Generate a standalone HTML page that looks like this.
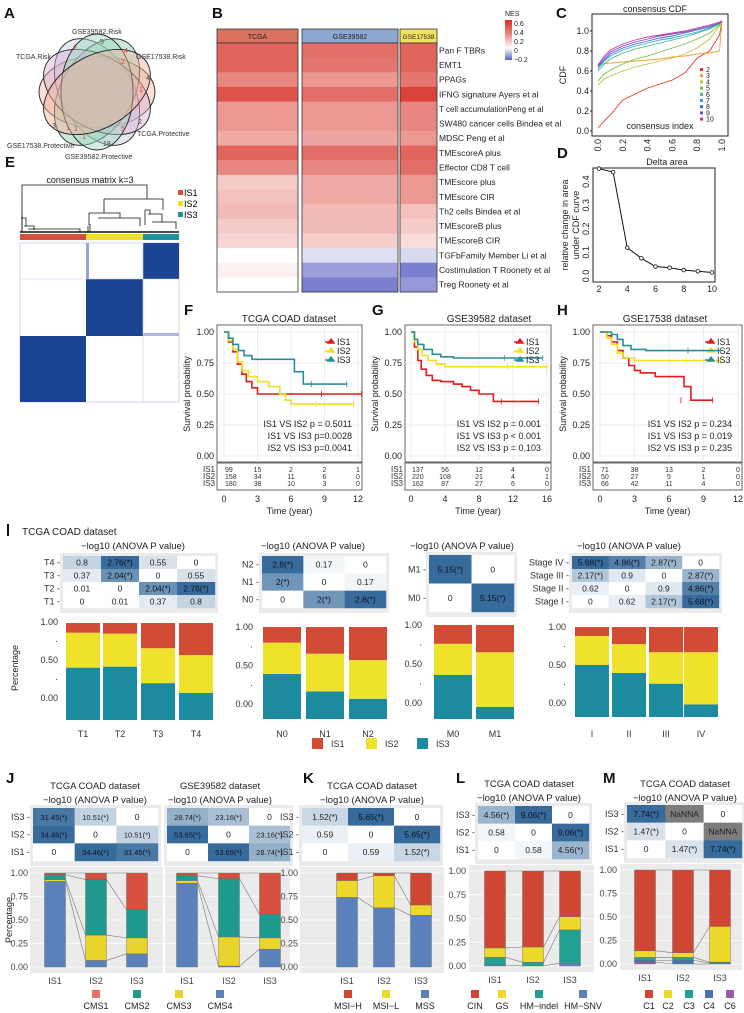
<!DOCTYPE html>
<html><head><meta charset="utf-8"><style>
html,body{margin:0;padding:0;background:#fff;}
svg{display:block;font-family:"Liberation Sans",Arial,sans-serif;}
</style></head><body>
<svg id="fig" width="744" height="1013" viewBox="0 0 744 1013" xmlns="http://www.w3.org/2000/svg">
<rect x="0" y="0" width="744" height="1013" fill="#fff"/>
<!-- panel letters -->
<g font-weight="bold" font-size="15" fill="#111">
<text x="4" y="18">A</text>
<text x="212" y="18">B</text>
<text x="556" y="18">C</text>
<text x="557" y="158">D</text>
<text x="5" y="167">E</text>
<text x="184" y="315">F</text>
<text x="372" y="315">G</text>
<text x="557" y="315">H</text>
<text x="6" y="783">J</text>
<text x="303" y="783">K</text>
<text x="456" y="783">L</text>
<text x="603" y="783">M</text>
</g>
<rect x="7" y="524" width="2" height="12" fill="#111"/>
<text x="22" y="535" font-size="10" fill="#222">TCGA COAD dataset</text>

<!-- Venn A -->
<g stroke="#222" stroke-width="0.9">
<ellipse cx="97" cy="92" rx="58" ry="36" transform="rotate(0 97 92)" fill="#f2b7a0" fill-opacity="0.45"/>
<ellipse cx="97" cy="92" rx="58" ry="36" transform="rotate(60 97 92)" fill="#c4cbe4" fill-opacity="0.45"/>
<ellipse cx="97" cy="92" rx="58" ry="36" transform="rotate(120 97 92)" fill="#8ccfae" fill-opacity="0.45"/>
<ellipse cx="97" cy="92" rx="58" ry="36" transform="rotate(30 97 92)" fill="#d8b0d4" fill-opacity="0.45"/>
<ellipse cx="97" cy="92" rx="58" ry="36" transform="rotate(90 97 92)" fill="#9fd6c2" fill-opacity="0.45"/>
<ellipse cx="97" cy="92" rx="58" ry="36" transform="rotate(150 97 92)" fill="#f0b09a" fill-opacity="0.45"/>
</g>
<g font-size="7" fill="#333">
<text x="72" y="34">GSE39582.Risk</text>
<text x="16" y="59">TCGA.Risk</text>
<text x="136" y="59">GSE17538.Risk</text>
<text x="137" y="136">TCGA.Protective</text>
<text x="7" y="148">GSE17538.Protective</text>
<text x="65" y="159">GSE39582.Protective</text>
</g>
<g font-size="7">
<text x="100" y="44" fill="#444">5</text>
<text x="73" y="50" fill="#e33">2</text>
<text x="124" y="53" fill="#e33">4</text>
<text x="121" y="64" fill="#e33">2</text>
<text x="146" y="80" fill="#444">4</text>
<text x="139" y="92" fill="#e33">1</text>
<text x="138" y="124" fill="#444">2</text>
<text x="121" y="131" fill="#e33">5</text>
<text x="103" y="146" fill="#444">18</text>
<text x="52" y="128" fill="#444">3</text>
<text x="66" y="130" fill="#e33">1</text>
<text x="74" y="131" fill="#e33">1</text>
<text x="82" y="139" fill="#e33">1</text>
</g>

<!-- E consensus matrix -->
<text x="90" y="183" font-size="9" text-anchor="middle" fill="#111">consensus matrix k=3</text>
<g stroke="#111" stroke-width="0.8" fill="none">
<path d="M22 232 V185 H147 V199"/>
<path d="M104 199 H163 V210"/>
<path d="M104 199 V213 M89 213 H120 V218 M89 213 V225 M98 218 H140 V226"/>
<path d="M145 210 H150 V214 M145 210 V225 M148 214 H162 V222 M152 222 H176 V229"/>
<path d="M22 215 V232 M21 218 H26 V226 M24 226 H34 V230 M28 229 H80 V232 M88 226 V232 M90 224 V232"/>
<path d="M20 232 H179" stroke-width="1.5"/>
</g>
<rect x="20" y="234" width="66" height="6" fill="#d4503a"/>
<rect x="86" y="234" width="57" height="6" fill="#efe11f"/>
<rect x="143" y="234" width="36" height="6" fill="#1f92a0"/>
<g>
<rect x="20" y="243" width="159" height="159" fill="#fff" stroke="#c8cbea" stroke-width="0.8"/>
<rect x="86" y="243" width="3" height="93" fill="#9aa3d6"/>
<rect x="86" y="333" width="93" height="3" fill="#b0b7e0"/>
<rect x="143" y="243" width="36" height="36" fill="#1b4594"/>
<rect x="86" y="279" width="57" height="57" fill="#1b4594"/>
<rect x="20" y="336" width="66" height="66" fill="#1b4594"/>
<line x1="20" y1="279" x2="179" y2="279" stroke="#c8cbea" stroke-width="0.6"/>
<line x1="143" y1="243" x2="143" y2="402" stroke="#c8cbea" stroke-width="0.6"/>
</g>
<g font-size="9">
<rect x="178" y="190" width="5" height="5" fill="#d4503a"/>
<text x="184" y="196">IS1</text>
<rect x="178" y="201" width="5" height="5" fill="#efe11f"/>
<text x="184" y="207">IS2</text>
<rect x="178" y="212" width="5" height="5" fill="#1f92a0"/>
<text x="184" y="218">IS3</text>
</g>
</svg>
<script>
const NS='http://www.w3.org/2000/svg';
const S=document.getElementById('fig');
function mk(tag,a,p){const e=document.createElementNS(NS,tag);for(const k in a)e.setAttribute(k,a[k]);(p||S).appendChild(e);return e;}
function tx(x,y,s,fs,anc,fill){const e=mk('text',{x:x,y:y,'font-size':fs,'text-anchor':anc||'start',fill:fill||'#222'});e.textContent=s;return e;}

/* ===== B heatmap data ===== */
const bRows=['Pan F TBRs','EMT1','PPAGs','IFNG signature  Ayers et al','T cell accumulationPeng et al','SW480 cancer cells Bindea et al','MDSC Peng et al','TMEscoreA plus','Effector CD8 T cell','TMEscore plus','TMEscore CIR','Th2 cells Bindea et al','TMEscoreB plus','TMEscoreB CIR','TGFbFamily Member Li et al','Costimulation T Roonety et al','Treg Roonety et al'];
const bTCGA=[0.45,0.45,0.35,0.5,0.3,0.3,0.25,0.45,0.35,0.15,0.18,0.2,0.15,0.12,0.0,0.04,0.0];
const bGSE39582=[0.42,0.4,0.3,0.42,0.3,0.3,0.26,0.42,0.35,0.25,0.25,0.2,0.2,0.14,-0.05,-0.15,-0.2];
const bGSE17538=[0.45,0.45,0.4,0.55,0.35,0.35,0.3,0.45,0.42,0.3,0.3,0.18,0.15,0.1,-0.06,-0.2,-0.16];
const bGroups=['TCGA','GSE39582','GSE17538'];
function nesColor(v){
  if(v>=0){const t=Math.min(v/0.6,1);return `rgb(${Math.round(255-40*t)},${Math.round(255-207*t)},${Math.round(255-216*t)})`;}
  const t=Math.min(-v/0.25,1);return `rgb(${Math.round(255-165*t)},${Math.round(255-160*t)},${Math.round(255-60*t)})`;
}
(function(){
  const cols=[[217,298,'#d9735f',bTCGA],[302,398,'#8ea8d2',bGSE39582],[400,437,'#f2e061',bGSE17538]];
  const top=43,bot=292,rh=(bot-top)/bRows.length;
  cols.forEach((c,ci)=>{
    const h=mk('rect',{x:c[0],y:29,width:c[1]-c[0],height:14,fill:c[2],stroke:'#333','stroke-width':0.8});
    
    
    const ht=tx((c[0]+c[1])/2,39,bGroups[ci],ci==2?6.5:7,'middle','#222');
    
    
    c[3].forEach((v,ri)=>{
      const r=mk('rect',{x:c[0],y:top+ri*rh,width:c[1]-c[0],height:rh+0.3,fill:nesColor(v)});
      
      
    });
    const f=mk('rect',{x:c[0],y:top,width:c[1]-c[0],height:bot-top,fill:'none',stroke:'#333','stroke-width':0.8});
    
    
  });
  bRows.forEach((n,ri)=>{
    const t=tx(439,top+ri*rh+rh/2+3,n,n.indexOf('Peng et al')>0&&ri==4?8:8.5,'start','#222');
    
    
  });
})();
const nesTicks=[0.6,0.4,0.2,0,-0.2];
(function(){
  const t0=tx(505,16,'NES',7,'start','#222');
  
  
  const g=mk('defs',{});
  const lg=mk('linearGradient',{id:'nesg',x1:0,y1:0,x2:0,y2:1},g);
  [[0,0.65],[0.35,0.35],[0.7,0],[1,-0.25]].forEach(s=>mk('stop',{offset:s[0],'stop-color':nesColor(s[1])},lg));
  const r=mk('rect',{x:505,y:20,width:7,height:40,fill:'url(#nesg)'});
  
  
  nesTicks.forEach(v=>{
    const y=60-(v+0.25)/0.9*40+2;
    const t=tx(514,y+2,v<0?'\u22120.2':String(v),7,'start','#222');
    
    
  });
})();

/* ===== C consensus CDF ===== */
const cdfX=[0,0.05,0.1,0.2,0.3,0.4,0.5,0.6,0.7,0.8,0.9,0.98,1.0];
const cdfK2=[0.03,0.1,0.16,0.31,0.37,0.43,0.47,0.51,0.58,0.73,0.8,0.96,1.1];
const cdfK3=[0.67,0.67,0.68,0.69,0.7,0.71,0.72,0.74,0.75,0.77,0.78,0.8,1.1];
const cdfK4=[0.46,0.52,0.55,0.6,0.64,0.67,0.7,0.73,0.77,0.83,0.92,1.05,1.1];
const cdfK5=[0.5,0.57,0.61,0.67,0.72,0.75,0.79,0.83,0.87,0.92,0.98,1.06,1.1];
const cdfK6=[0.6,0.67,0.72,0.78,0.82,0.85,0.88,0.91,0.94,0.98,1.02,1.07,1.1];
const cdfK7=[0.62,0.7,0.75,0.81,0.85,0.88,0.91,0.93,0.96,0.99,1.03,1.08,1.1];
const cdfK8=[0.64,0.71,0.77,0.83,0.87,0.9,0.93,0.95,0.98,1.01,1.04,1.08,1.1];
const cdfK9=[0.65,0.73,0.79,0.85,0.89,0.92,0.95,0.97,0.99,1.02,1.05,1.08,1.1];
const cdfK10=[0.66,0.75,0.81,0.87,0.91,0.94,0.96,0.98,1.0,1.03,1.06,1.09,1.1];
const cdfSeries=[cdfK2,cdfK3,cdfK4,cdfK5,cdfK6,cdfK7,cdfK8,cdfK9,cdfK10];
const cdfNames=['2','3','4','5','6','7','8','9','10'];
const cdfColors=['#e8352e','#f0a030','#b6c93a','#77bf3e','#3fb58a','#34a4d6','#3a6fc4','#7a4cc0','#d3359a'];
const cdfTicks=[0,0.2,0.4,0.6,0.8,1.0];
(function(){
  const xs=v=>598+v*124, ys=v=>131-v*100;
  const fr=mk('rect',{x:592,y:14,width:136,height:122,fill:'#fff',stroke:'#222','stroke-width':1});
  
  
  const tt=tx(655,12,'consensus CDF',9,'middle');
  
  
  cdfSeries.forEach((s,i)=>{
    const d=s.map((v,j)=>(j?'L':'M')+xs(cdfX[j]).toFixed(1)+' '+ys(v).toFixed(1)).join(' ');
    const p=mk('path',{d:d,fill:'none',stroke:cdfColors[i],'stroke-width':0.9});
    
    
    const r=mk('rect',{x:700,y:68+i*6.2,width:3,height:3,fill:cdfColors[i]});
    
    
    const t=tx(706,72+i*6.2,cdfNames[i],7,'start');
    
    
  });
  cdfTicks.forEach(v=>{
    const t=tx(589,ys(v)+3,v.toFixed(1),9,'end');
    
    
    const l=mk('line',{x1:590,x2:592,y1:ys(v),y2:ys(v),stroke:'#222'});
    
    
    const tx2=tx(0,0,v.toFixed(1),9,'end');
    tx2.setAttribute('transform',`translate(${xs(v)+3},${139}) rotate(-90)`);
    
    
  });
  const yl=tx(0,0,'CDF',9,'middle');
  yl.setAttribute('transform','translate(566,75) rotate(-90)');
  
  
  const xl=tx(660,129,'consensus index',9,'middle');
  
  
})();

/* ===== D delta area ===== */
const dK=[2,3,4,5,6,7,8,9,10];
const dArea=[0.455,0.44,0.12,0.075,0.04,0.035,0.025,0.02,0.015];
const dTicks=[0,0.1,0.2,0.3,0.4];
const dXTicks=[2,4,6,8,10];
(function(){
  const xs=k=>599+(k-2)*(113/8), ys=v=>276-v*236;
  const fr=mk('rect',{x:593,y:168,width:122,height:114,fill:'#fff',stroke:'#222','stroke-width':1});
  
  
  const tt=tx(667,165,'Delta area',9,'middle');
  
  
  const p=mk('path',{d:dK.map((k,i)=>(i?'L':'M')+xs(k)+' '+ys(dArea[i])).join(' '),fill:'none',stroke:'#111','stroke-width':1});
  
  
  dK.forEach((k,i)=>{
    const c=mk('circle',{cx:xs(k),cy:ys(dArea[i]),r:1.8,fill:'#fff',stroke:'#111','stroke-width':0.8});
    
    
  });
  dTicks.forEach(v=>{
    const t=tx(0,0,v.toFixed(1),9,'middle');
    t.setAttribute('transform',`translate(589,${ys(v)}) rotate(-90)`);
    
    
  });
  dXTicks.forEach(k=>{
    const t=tx(xs(k),292,String(k),9,'middle');
    
    
  });
  const y1=tx(0,0,'relative change in area',9,'middle');
  y1.setAttribute('transform','translate(568,225) rotate(-90)');
  
  
  const y2=tx(0,0,'under CDF curve',9,'middle');
  y2.setAttribute('transform','translate(579,225) rotate(-90)');
  
  
})();

/* ===== Survival F/G/H ===== */
const fTimeTicks=[0,3,6,9,12];
const fIS1=[[0,1],[0.4,0.92],[0.8,0.84],[1.2,0.74],[1.6,0.66],[2,0.6],[2.5,0.55],[3,0.5],[12.3,0.5]];
const fIS2=[[0,1],[0.4,0.93],[0.8,0.86],[1.2,0.76],[1.6,0.69],[2.2,0.64],[3,0.6],[4,0.56],[5,0.5],[5.5,0.45],[6,0.42],[11.6,0.42]];
const fIS3=[[0,1],[0.4,0.95],[0.8,0.9],[1.3,0.85],[1.8,0.81],[2.5,0.78],[6.2,0.78],[6.3,0.68],[7,0.68],[7.1,0.58],[11,0.58]];
const fRisk=[[99,15,2,2,1],[158,34,11,6,0],[180,38,10,3,0]];
const fPvals=['IS1 VS IS2 p = 0.5011','IS1 VS IS3 p=0.0028','IS2 VS IS3 p=0.0041'];
const gTimeTicks=[0,4,8,12,16];
const gIS1=[[0,1],[0.4,0.88],[0.8,0.77],[1.2,0.7],[1.8,0.65],[2.5,0.61],[3.5,0.6],[5,0.58],[6,0.56],[7,0.53],[8,0.5],[9.6,0.5],[9.7,0.44],[15,0.44]];
const gIS2=[[0,1],[0.4,0.92],[0.8,0.86],[1.3,0.81],[2,0.77],[3,0.74],[4,0.72],[16,0.72]];
const gIS3=[[0,1],[0.4,0.94],[0.8,0.9],[1.5,0.86],[2.5,0.82],[3.5,0.8],[5,0.79],[15.5,0.79]];
const gRisk=[[137,56,12,4,0],[220,108,21,4,1],[162,87,27,6,0]];
const gPvals=['IS1 VS IS2 p = 0.001','IS1 VS IS3 p < 0.001','IS2 VS IS3 p = 0.103'];
const hTimeTicks=[0,3,6,9,12];
const hIS1=[[0,1],[0.6,0.97],[1,0.92],[1.5,0.85],[2,0.79],[2.5,0.73],[3,0.69],[3.5,0.67],[4.8,0.64],[7.2,0.64],[7.3,0.56],[7.8,0.56],[7.9,0.45],[9.8,0.45]];
const hIS2=[[0,1],[0.6,0.95],[1,0.9],[1.5,0.83],[2,0.79],[3,0.77],[10.5,0.77]];
const hIS3=[[0,1],[1,0.98],[1.5,0.94],[2,0.89],[2.7,0.86],[4,0.85],[10.5,0.85]];
const hRisk=[[71,38,13,2,0],[50,27,5,1,0],[66,42,11,4,0]];
const hPvals=['IS1 VS IS2 p = 0.234','IS1 VS IS3 p = 0.019','IS2 VS IS3 p = 0.235'];
const survColors=['#e41a1c','#f2e01e','#2a8d9c'];
const survYTicks=[0,0.25,0.5,0.75,1];
function survival(x0,x1,t0,tMax,ticks,series,risk,pv,title,tcx,showY){
  const xs=t=>t0+t/tMax*(t1-t0); const t1=x1-4;
  const ys=v=>456-v*124;
  const fr=mk('rect',{x:x0,y:325,width:x1-x0,height:137,fill:'#fff',stroke:'#555','stroke-width':0.9});
  
  
  const tt=tx(tcx,322,title,10,'middle');
  
  
  survYTicks.forEach(v=>{
    const g=mk('line',{x1:x0,x2:x1,y1:ys(v),y2:ys(v),stroke:'#e6e6e6','stroke-width':0.7});
    
    
    const t=tx(x0-3,ys(v)+3,v.toFixed(2),9,'end');
    
    
  });
  ticks.forEach(v=>{
    const g=mk('line',{x1:xs(v),x2:xs(v),y1:325,y2:462,stroke:'#e6e6e6','stroke-width':0.7});
    
    
    const t=tx(xs(v),502,String(v),9,'middle');
    
    
  });
  series.forEach((s,i)=>{
    let d='M'+xs(s[0][0])+' '+ys(s[0][1]);
    for(let j=1;j<s.length;j++){d+=' H'+xs(s[j][0]).toFixed(1)+' V'+ys(s[j][1]).toFixed(1);}
    const p=mk('path',{d:d,fill:'none',stroke:survColors[i],'stroke-width':1.6});
    
    
    const last=s[s.length-1];
    const c=mk('path',{d:`M${xs(last[0])} ${ys(last[1])-3} v6 M${xs(last[0]*0.7+s[1][0]*0.3)} ${ys(last[1])-3} v6`,stroke:survColors[i],'stroke-width':0.8});
    
    
    const lk=mk('path',{d:`M${x1-34} ${343+i*9} l3 -4 l3 4 z M${x1-37} ${342+i*9} h9`,fill:survColors[i],stroke:survColors[i],'stroke-width':1.4});
    
    
    const lt=tx(x1-25,345+i*9,'IS'+(i+1),9,'start');
    
    
    const pt=tx(x1-10,427+i*12,pv[i],9,'end');
    
    
  });
  const rf=mk('rect',{x:x0,y:463,width:x1-x0,height:27,fill:'#fff',stroke:'#555','stroke-width':0.9});
  
  
  risk.forEach((row,i)=>{
    const rl=tx(x0-2,472+i*7,'IS'+(i+1),8,'end','#333');
    
    
    row.forEach((n,j)=>{
      const t=tx(j==0?xs(ticks[j])+1:xs(ticks[j]),472+i*7,String(n),7,j==0?'start':'middle','#333');
      
      
    });
  });
  const xl=tx((x0+x1)/2,514,'Time (year)',9,'middle');
  
  
  const yl=tx(0,0,'Survival probability',9,'middle');
  yl.setAttribute('transform',`translate(${x0-27},394) rotate(-90)`);
  
  
}
survival(217,362,224,12,fTimeTicks,[fIS1,fIS2,fIS3],fRisk,fPvals,'TCGA COAD dataset',289,true);
survival(405,551,411,16,gTimeTicks,[gIS1,gIS2,gIS3],gRisk,gPvals,'GSE39582 dataset',489,true);
survival(593,742,600,12,hTimeTicks,[hIS1,hIS2,hIS3],hRisk,hPvals,'GSE17538 dataset',665,true);

/* ===== heatmap helper (ANOVA) ===== */
function anovaHeat(x0,x1,y0,y1,rows,mat,labelX,title,tcx,tcy,key){
  const nc=mat[0].length,nr=mat.length,cw=(x1-x0)/nc,rh=(y1-y0)/nr;
  let mx=0;mat.forEach(r=>r.forEach(v=>{if(!isNaN(v))mx=Math.max(mx,v);}));
  const bg=mk('rect',{x:x0-3,y:y0-3,width:x1-x0+6,height:y1-y0+8,fill:'#ebebeb'});
  
  
  mat.forEach((r,i)=>{
    r.forEach((v,j)=>{
      let fill;
      if(isNaN(v))fill='#7d7d7d';else{const t=v/mx;fill=`rgb(${Math.round(255-201*t)},${Math.round(255-148*t)},${Math.round(255-100*t)})`;}
      const c=mk('rect',{x:x0+j*cw,y:y0+i*rh,width:cw+0.2,height:rh+0.2,fill:fill});
      
      
      const s=isNaN(v)?'NaNNA':(String(v)+(v>1.3?'(*)':''));
      const t=tx(x0+j*cw+cw/2,y0+i*rh+rh/2+3,s,String(s).length>7?7.5:8.5,'middle',(!isNaN(v)&&v/mx>0.55)?'#112':'#222');
      
      
    });
    if(rows){
      const rl=tx(labelX,y0+i*rh+rh/2+3,rows[i]+' -',9,'end','#333');
      
      
    }
  });
  title.forEach((s,k)=>{
    const t=tx(tcx,tcy+k*14,s,9.5,'middle');
    
    
  });
}

/* ===== I panel data ===== */
const tRows=['T4','T3','T2','T1'];
const tAnova=[[0.8,2.76,0.55,0],[0.37,2.04,0,0.55],[0.01,0,2.04,2.76],[0,0.01,0.37,0.8]];
const nRows=['N2','N1','N0'];
const nAnova=[[2.8,0.17,0],[2,0,0.17],[0,2,2.8]];
const mRows=['M1','M0'];
const mAnova=[[5.15,0],[0,5.15]];
const sRows=['Stage IV','Stage III','Stage II','Stage I'];
const sAnova=[[5.68,4.86,2.87,0],[2.17,0.9,0,2.87],[0.62,0,0.9,4.86],[0,0.62,2.17,5.68]];
const tCats=['T1','T2','T3','T4'];
const tIS1=[0.10,0.11,0.26,0.33],tIS2=[0.36,0.34,0.36,0.39],tIS3=[0.54,0.55,0.38,0.28];
const nCats=['N0','N1','N2'];
const nIS1=[0.17,0.29,0.36],nIS2=[0.34,0.41,0.42],nIS3=[0.49,0.30,0.22];
const mCats=['M0','M1'];
const mIS1=[0.20,0.29],mIS2=[0.33,0.58],mIS3=[0.47,0.13];
const sCats=['I','II','III','IV'];
const sIS1=[0.10,0.19,0.28,0.28],sIS2=[0.32,0.32,0.35,0.58],sIS3=[0.58,0.49,0.37,0.14];
const isColors=['#d24b35','#efe22a','#1c8a9f'];
const iYTicks=['1.00','-','0.50','-','0.00'];

anovaHeat(63,215,556,608,tRows,tAnova,60,['\u2212log10 (ANOVA P value)'],133,549,'t');
anovaHeat(262,386,556,608,nRows,nAnova,259,['\u2212log10 (ANOVA P value)'],313,549,'n');
anovaHeat(429,514,555,612,mRows,mAnova,426,['\u2212log10 (ANOVA P value)'],462,549,'m');
anovaHeat(572,719,556,608,sRows,sAnova,569,['\u2212log10 (ANOVA P value)'],629,549,'stage');

function iBars(lefts,w,top,bot,cats,series,axisX,tickYs,key){
  const H=bot-top;
  cats.forEach((c,i)=>{
    let acc=0;
    [series[2],series[1],series[0]].forEach((s,k)=>{
      const v=s[i];const y=bot-(acc+v)*H;
      const r=mk('rect',{x:lefts[i],y:y,width:w,height:v*H,fill:isColors[2-k]});
      
      
      acc+=v;
    });
    const t=tx(lefts[i]+w/2,737,c,9,'middle','#333');
    
    
  });
  iYTicks.forEach((s,k)=>{
    const t=tx(axisX,tickYs[0]+k*(tickYs[1]-tickYs[0])/4+3,s==='-'?'\u00b7':s,9,'end','#333');
    
    
  });
}
iBars([66,103,141,179],34,623,720,tCats,[tIS1,tIS2,tIS3],58,[622,698],'t');
iBars([263,306,349],38,627,719,nCats,[nIS1,nIS2,nIS3],253,[627,704],'n');
iBars([434,476],38,625,719,mCats,[mIS1,mIS2,mIS3],422,[625,703],'m');
iBars([575,612,649,684],34,627,717,sCats,[sIS1,sIS2,sIS3],566,[627,703],'stage');
(function(){
  const yl=tx(0,0,'Percentage',9,'middle');
  yl.setAttribute('transform','translate(18,668) rotate(-90)');
  
  
  const names=['IS1','IS2','IS3'],xs=[312,366,417];
  names.forEach((n,i)=>{
    const r=mk('rect',{x:xs[i],y:738,width:11,height:11,fill:isColors[i]});
    
    
    const t=tx(xs[i]+19,747,n,9,'start','#333');
    
    
  });
})();

/* ===== J-M data ===== */
const isCats=['IS1','IS2','IS3'];
const jTcgaAnova=[[31.45,10.51,0],[34.46,0,10.51],[0,34.46,31.45]];
const jGseAnova=[[28.74,23.16,0],[53.65,0,23.16],[0,53.65,28.74]];
const kAnova=[[1.52,5.65,0],[0.59,0,5.65],[0,0.59,1.52]];
const lAnova=[[4.56,9.06,0],[0.58,0,9.06],[0,0.58,4.56]];
const mcAnova=[[7.74,NaN,0],[1.47,0,NaN],[0,1.47,7.74]];
const anovaRows=['IS3','IS2','IS1'];
/* stacked series listed bottom -> top */
const jTcgaCMS4=[0.91,0.07,0.14],jTcgaCMS3=[0.02,0.27,0.17],jTcgaCMS2=[0.05,0.59,0.30],jTcgaCMS1=[0.02,0.07,0.39];
const jGseCMS4=[0.89,0.01,0.19],jGseCMS3=[0.03,0.31,0.12],jGseCMS2=[0.05,0.62,0.25],jGseCMS1=[0.03,0.06,0.44];
const kMSS=[0.74,0.63,0.55],kMSIL=[0.18,0.34,0.11],kMSIH=[0.08,0.03,0.34];
const lSNV=[0.01,0.0,0.03],lIndel=[0.08,0.04,0.35],lGS=[0.10,0.16,0.14],lCIN=[0.81,0.80,0.48];
const mC6=[0.02,0.0,0.0],mC4=[0.02,0.04,0.01],mC3=[0.03,0.03,0.01],mC2=[0.07,0.05,0.38],mC1=[0.86,0.88,0.60];
const pctTicks=[0,0.25,0.5,0.75,1];

function stacked(bx0,bx1,y1,y0,centers,w,series,colors,tickX,key,ticks){
  const ys=v=>y0-v*(y0-y1);
  const bg=mk('rect',{x:bx0,y:y1-6,width:bx1-bx0,height:y0-y1+12,fill:'#ebebeb'});
  
  
  pctTicks.forEach(v=>{
    const g=mk('line',{x1:bx0,x2:bx1,y1:ys(v),y2:ys(v),stroke:'#fff','stroke-width':0.8});
    
    
    if(ticks){
      const t=tx(tickX,ys(v)+3,v.toFixed(2),9,'end','#444');
      
      
    }
  });
  const cum=centers.map(()=>0);
  const bounds=[];
  series.forEach((s,k)=>{
    const b=[];
    centers.forEach((c,i)=>{
      const yTop=ys(cum[i]+s[i]);
      const r=mk('rect',{x:c-w/2,y:yTop,width:w,height:Math.max(0,s[i]*(y0-y1)),fill:colors[k],stroke:'#666','stroke-width':0.4});
      
      
      cum[i]+=s[i];b.push(cum[i]);
    });
    bounds.push(b);
  });
  bounds.forEach(b=>{
    for(let i=0;i<centers.length-1;i++){
      const l=mk('line',{x1:centers[i]+w/2,y1:ys(b[i]),x2:centers[i+1]-w/2,y2:ys(b[i+1]),stroke:'#777','stroke-width':0.6});
      
      
    }
  });
  centers.forEach((c,i)=>{
    const t=tx(c,y0+17,isCats[i],9,'middle','#444');
    
    
  });
}
function legendRow(names,colors,xs,key){
  names.forEach((n,i)=>{
    const r=mk('rect',{x:xs[i]-4,y:990,width:8,height:8,fill:colors[i]});
    
    
    const t=tx(xs[i],1009,n,9,'middle','#222');
    
    
  });
}
const cmsColors=['#5b81bb','#e8d42a','#1f9a8f','#d6503d'];
anovaHeat(33,158,808,861,anovaRows,jTcgaAnova,30,['TCGA COAD dataset','\u2212log10 (ANOVA P value)'],95,789,'j-tcga');
anovaHeat(167,290,808,861,null,jGseAnova,0,['GSE39582 dataset','\u2212log10 (ANOVA P value)'],220,789,'j-gse');
stacked(30,163,873,967,[55,96,137],21,[jTcgaCMS4,jTcgaCMS3,jTcgaCMS2,jTcgaCMS1],cmsColors,28,'j-tcga',true);
stacked(165,290,873,967,[187,229,270],21,[jGseCMS4,jGseCMS3,jGseCMS2,jGseCMS1],cmsColors,0,'j-gse',false);
legendRow(['CMS1','CMS2','CMS3','CMS4'],['#ef6f66','#1f9a8f','#e8d42a','#5b81bb'],[96,137,179,220],'cms');
(function(){
  const yl=tx(0,0,'Percentage',9,'middle');
  yl.setAttribute('transform','translate(12,920) rotate(-90)');
  
  
})();
anovaHeat(302,440,808,861,anovaRows,kAnova,299,['TCGA COAD dataset','\u2212log10 (ANOVA P value)'],372,789,'k');
stacked(300,444,873,967,[347,384,421],21,[kMSS,kMSIL,kMSIH],['#5b81bb','#ecd92a','#cf4632'],298,'k',true);
legendRow(['MSI\u2212H','MSI\u2212L','MSS'],['#cf4632','#ecd92a','#5b81bb'],[348,386,425],'msi');
anovaHeat(478,589,806,859,anovaRows,lAnova,475,['TCGA COAD dataset','\u2212log10 (ANOVA P value)'],529,787,'l');
stacked(469,594,871,966,[495,533,570],21,[lSNV,lIndel,lGS,lCIN],['#5b81bb','#22a092','#ecd92a','#cf4632'],466,'l',true);
legendRow(['CIN','GS','HM\u2212indel','HM\u2212SNV'],['#cf4632','#ecd92a','#22a092','#5b81bb'],[475,502,539,583],'cms-l');
anovaHeat(627,742,805,858,anovaRows,mcAnova,624,['TCGA COAD dataset','\u2212log10 (ANOVA P value)'],685,787,'m-immune');
stacked(620,742,870,964,[645,683,720],21,[mC6,mC4,mC3,mC2,mC1],['#9a5aa8','#4a72b0','#22a092','#ecd92a','#cf4632'],617,'m-immune',true);
legendRow(['C1','C2','C3','C4','C6'],['#cf4632','#ecd92a','#22a092','#4a72b0','#9a5aa8'],[649,668,689,709,730],'immune');
</script>
</body></html>
